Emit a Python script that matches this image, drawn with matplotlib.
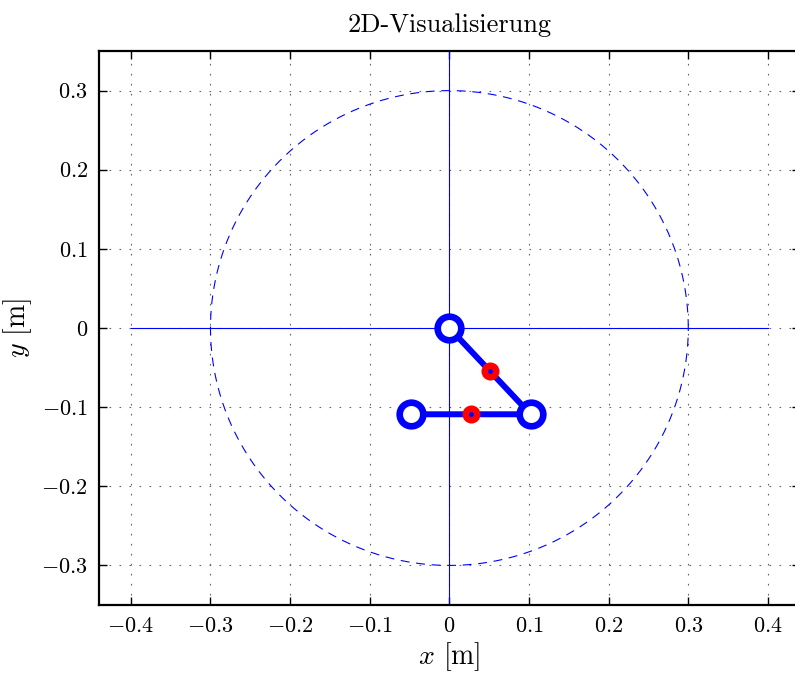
import numpy as np
import matplotlib
matplotlib.use('Agg')
import matplotlib.pyplot as plt

plt.rcParams['font.family'] = 'cmr10'
plt.rcParams['mathtext.fontset'] = 'cm'
plt.rcParams['axes.formatter.use_mathtext'] = True

# double pendulum state (joint positions in m)
joint_x = [0.0, 0.102, -0.048]
joint_y = [0.0, -0.109, -0.109]
# centers of mass of the two links
com_x = [0.051, 0.027]
com_y = [-0.0545, -0.109]
# reachable workspace radius
r_ws = 0.3

x_ticks = [-0.4, -0.3, -0.2, -0.1, 0, 0.1, 0.2, 0.3, 0.4]
y_ticks = [-0.3, -0.2, -0.1, 0, 0.1, 0.2, 0.3]

fig = plt.figure(figsize=(7.95, 6.75), dpi=100)
ax = fig.add_axes([0.1245, 0.1037, 0.8815, 0.8207])

# workspace circle and axes cross
phi = np.linspace(0, 2 * np.pi, 400)
ax.plot(r_ws * np.cos(phi), r_ws * np.sin(phi), color='blue', lw=0.8, ls=(0, (8, 6)))
ax.plot([-0.4, 0.4], [0, 0], color='blue', lw=0.8)
ax.plot([0, 0], [-0.4, 0.4], color='blue', lw=0.8)

# links and joints
ax.plot(joint_x, joint_y, color='blue', lw=4.3, zorder=3)
ax.plot(joint_x, joint_y, 'o', ms=17, mfc='white', mec='blue', mew=4.8, zorder=4)
ax.plot(com_x, com_y, 'o', ms=13, mfc='red', mec='none', zorder=5)
ax.plot(com_x, com_y, 'o', ms=3.5, mfc='blue', mec='none', zorder=6)

ax.set_xlim(-0.44, 0.44)
ax.set_ylim(-0.35, 0.35)
ax.set_xticks(x_ticks)
ax.set_yticks(y_ticks)
ax.set_xticklabels(['$%g$' % t for t in x_ticks])
ax.set_yticklabels(['$%g$' % t for t in y_ticks])
ax.tick_params(direction='in', top=True, right=True, labelsize=16, length=6, width=1, pad=8)
ax.grid(True, color='#666666', ls=(0, (1.5, 7.5)), lw=0.8)
for s in ax.spines.values():
    s.set_linewidth(1.6)

ax.set_title('2D-Visualisierung', fontsize=19, pad=14)
ax.set_xlabel('$x$ [m]', fontsize=20, labelpad=3)
ax.set_ylabel('$y$ [m]', fontsize=20, labelpad=5)

fig.savefig('out.png', dpi=100)
